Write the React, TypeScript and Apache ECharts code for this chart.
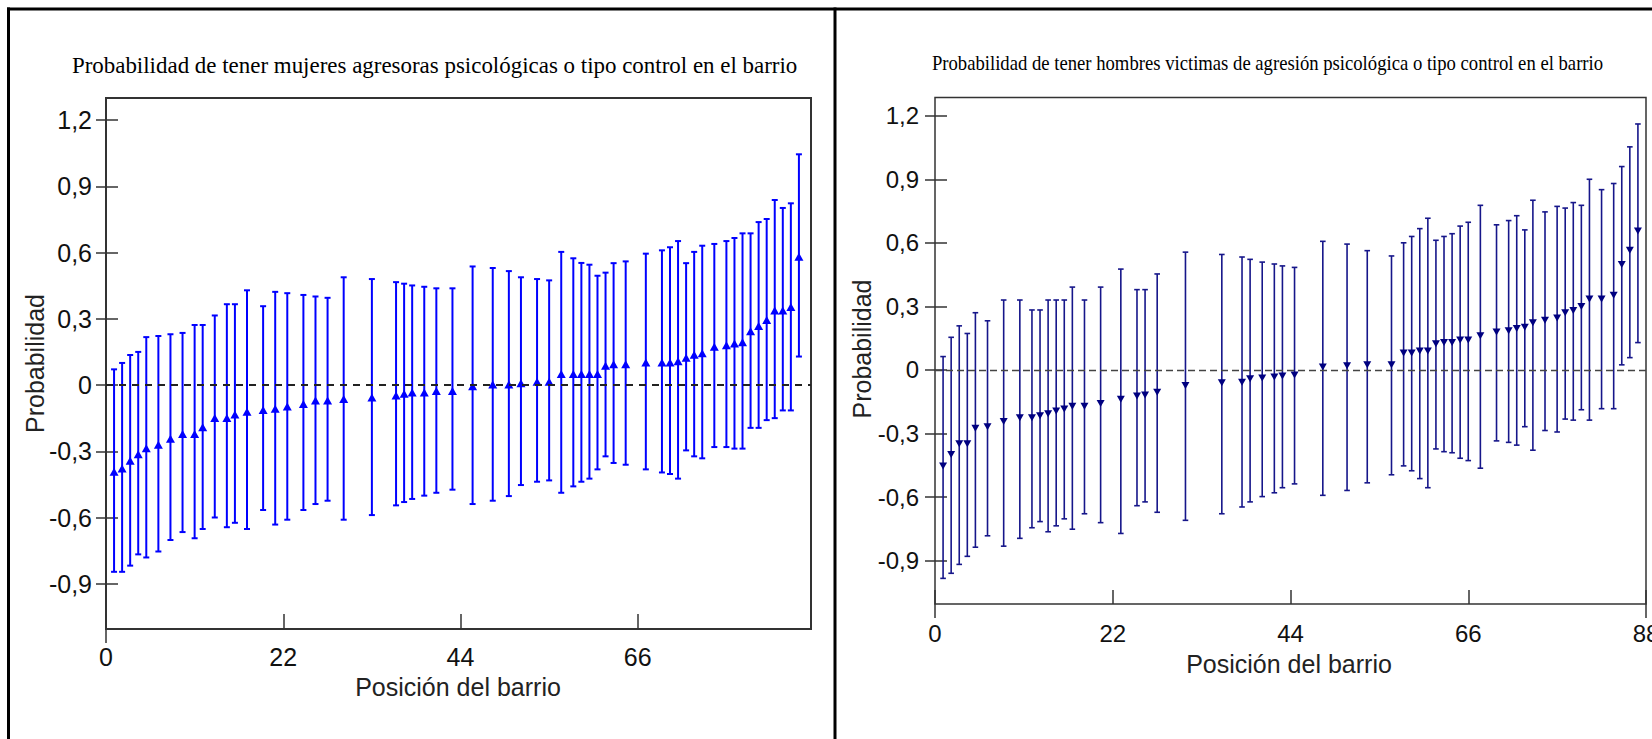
import React, { useEffect, useRef } from "react";
import * as echarts from "echarts";

// ---------- Data: left panel (mujeres agresoras) ----------
const womenPos = [1, 2, 3, 4, 5, 6.5, 8, 9.5, 11, 12, 13.5, 15, 16, 17.5, 19.5, 21, 22.5, 24.5, 26, 27.5, 29.5, 33, 36, 37, 38, 39.5, 41, 43, 45.5, 48, 50, 51.5, 53.5, 55, 56.5, 58, 59, 60, 61, 62, 63, 64.5, 67, 69, 70, 71, 72, 73, 74, 75.5, 77, 78, 79, 80, 81, 82, 83, 84, 85, 86];
const womenEst = [-0.393, -0.378, -0.343, -0.314, -0.286, -0.27, -0.243, -0.222, -0.222, -0.191, -0.149, -0.149, -0.134, -0.121, -0.113, -0.107, -0.097, -0.086, -0.07, -0.07, -0.063, -0.057, -0.047, -0.04, -0.034, -0.034, -0.027, -0.027, -0.005, 0.002, 0.002, 0.008, 0.015, 0.015, 0.05, 0.05, 0.05, 0.05, 0.05, 0.087, 0.094, 0.094, 0.102, 0.102, 0.102, 0.108, 0.123, 0.137, 0.144, 0.173, 0.18, 0.188, 0.194, 0.244, 0.267, 0.294, 0.338, 0.338, 0.353, 0.581];
const womenHigh = [0.071, 0.1, 0.136, 0.15, 0.217, 0.222, 0.23, 0.236, 0.272, 0.272, 0.315, 0.366, 0.366, 0.429, 0.357, 0.422, 0.416, 0.408, 0.401, 0.395, 0.488, 0.48, 0.466, 0.459, 0.451, 0.445, 0.438, 0.438, 0.537, 0.53, 0.516, 0.488, 0.48, 0.474, 0.603, 0.574, 0.553, 0.545, 0.495, 0.509, 0.552, 0.56, 0.595, 0.61, 0.624, 0.652, 0.552, 0.603, 0.631, 0.639, 0.652, 0.666, 0.687, 0.687, 0.738, 0.752, 0.838, 0.802, 0.823, 1.045];
const womenLow = [-0.846, -0.846, -0.818, -0.767, -0.781, -0.754, -0.702, -0.666, -0.694, -0.652, -0.6, -0.644, -0.624, -0.652, -0.566, -0.632, -0.61, -0.566, -0.539, -0.524, -0.61, -0.589, -0.545, -0.53, -0.516, -0.501, -0.488, -0.474, -0.539, -0.524, -0.503, -0.453, -0.438, -0.432, -0.488, -0.459, -0.438, -0.424, -0.382, -0.323, -0.353, -0.361, -0.382, -0.396, -0.403, -0.424, -0.296, -0.323, -0.332, -0.281, -0.281, -0.288, -0.288, -0.194, -0.194, -0.159, -0.15, -0.115, -0.115, 0.129];

// ---------- Data: right panel (hombres víctimas) ----------
const menPos = [1, 2, 3, 4, 5, 6.5, 8.5, 10.5, 12, 13, 14, 15, 16, 17, 18.5, 20.5, 23, 25, 26, 27.5, 31, 35.5, 38, 39, 40.5, 42, 43, 44.5, 48, 51, 53.5, 56.5, 58, 59, 60, 61, 62, 63, 64, 65, 66, 67.5, 69.5, 71, 72, 73, 74, 75.5, 77, 78, 79, 80, 81, 82.5, 84, 85, 86, 87];
const menEst = [-0.453, -0.399, -0.348, -0.348, -0.275, -0.268, -0.243, -0.226, -0.226, -0.216, -0.207, -0.194, -0.185, -0.172, -0.172, -0.159, -0.139, -0.123, -0.118, -0.105, -0.074, -0.06, -0.058, -0.042, -0.038, -0.033, -0.029, -0.024, 0.014, 0.02, 0.025, 0.025, 0.08, 0.08, 0.089, 0.089, 0.123, 0.13, 0.13, 0.141, 0.141, 0.161, 0.179, 0.185, 0.196, 0.201, 0.223, 0.234, 0.245, 0.27, 0.281, 0.299, 0.335, 0.335, 0.353, 0.498, 0.565, 0.656];
const menHigh = [0.063, 0.154, 0.208, 0.172, 0.27, 0.232, 0.33, 0.33, 0.283, 0.283, 0.33, 0.33, 0.33, 0.391, 0.33, 0.391, 0.476, 0.379, 0.379, 0.453, 0.556, 0.545, 0.533, 0.522, 0.509, 0.5, 0.491, 0.484, 0.607, 0.594, 0.563, 0.538, 0.6, 0.63, 0.667, 0.716, 0.612, 0.63, 0.643, 0.679, 0.697, 0.777, 0.685, 0.705, 0.728, 0.661, 0.801, 0.746, 0.772, 0.764, 0.79, 0.777, 0.9, 0.851, 0.88, 0.96, 1.053, 1.161];
const menLow = [-0.984, -0.96, -0.918, -0.88, -0.837, -0.783, -0.832, -0.795, -0.745, -0.716, -0.764, -0.736, -0.703, -0.752, -0.679, -0.721, -0.772, -0.641, -0.623, -0.672, -0.71, -0.679, -0.647, -0.623, -0.598, -0.58, -0.556, -0.538, -0.592, -0.569, -0.533, -0.495, -0.453, -0.476, -0.513, -0.556, -0.373, -0.386, -0.391, -0.417, -0.428, -0.464, -0.335, -0.342, -0.355, -0.268, -0.379, -0.286, -0.293, -0.232, -0.237, -0.188, -0.237, -0.183, -0.183, 0.024, 0.058, 0.129];

// ---------- Ticks & texts ----------
const yTicks = [-0.9, -0.6, -0.3, 0, 0.3, 0.6, 0.9, 1.2];
const xTicksLeft = [0, 22, 44, 66];
const xTicksRight = [0, 22, 44, 66, 88];
const titleLeft = "Probabilidad de tener mujeres agresoras psicológicas o tipo control en el barrio";
const titleRight = "Probabilidad de tener hombres victimas de agresión psicológica o tipo control en el barrio";
const yName = "Probabilidad";
const xName = "Posición del barrio";

const fmtY = (v: number) => (Math.abs(v) < 1e-9 ? "0" : v.toFixed(1).replace(".", ","));

function errorBar(color: string, lw: number, cap: number) {
  return (params: any, api: any) => {
    const x = api.value(0);
    const lo = api.coord([x, api.value(1)]);
    const hi = api.coord([x, api.value(2)]);
    const st = { stroke: color, lineWidth: lw };
    return {
      type: "group",
      children: [
        { type: "line", shape: { x1: lo[0], y1: lo[1], x2: hi[0], y2: hi[1] }, style: st },
        { type: "line", shape: { x1: hi[0] - cap, y1: hi[1], x2: hi[0] + cap, y2: hi[1] }, style: st },
        { type: "line", shape: { x1: lo[0] - cap, y1: lo[1], x2: lo[0] + cap, y2: lo[1] }, style: st },
      ],
    };
  };
}

function measure(text: string, font: string) {
  const c = document.createElement("canvas").getContext("2d");
  if (!c) return 1;
  c.font = font;
  return c.measureText(text).width || 1;
}

export default function App() {
  const ref = useRef<HTMLDivElement>(null);
  useEffect(() => {
    document.body.style.margin = "0";
    const chart = echarts.init(ref.current!, undefined, { renderer: "svg" });
    const sans = "Liberation Sans, Arial, sans-serif";
    const serif = '"Liberation Serif", "Times New Roman", serif';
    const tLSize = 24;
    const tRSize = 22;
    const sL = 726 / measure(titleLeft, `${tLSize}px "Liberation Serif"`);
    const sR = 672 / measure(titleRight, `${tRSize}px "Liberation Serif"`);

    const leftBlue = "#0000ff";
    const rightNavy = "#16168a";
    const axisCol = "#333";

    const mkY = (gi: number, min: number, max: number, labels: boolean, inside: boolean, len: number, fs: number, margin: number) => ({
      type: "value",
      gridIndex: gi,
      min,
      max,
      position: "left",
      axisLine: { show: false, onZero: false },
      splitLine: { show: false },
      axisTick: { show: true, inside, length: len, customValues: yTicks, lineStyle: { color: axisCol, width: 1.5 } },
      axisLabel: {
        show: labels,
        customValues: yTicks,
        formatter: fmtY,
        fontFamily: sans,
        fontSize: fs,
        color: "#111",
        margin,
      },
    });
    const mkX = (gi: number, max: number, ticks: number[], labels: boolean, inside: boolean, len: number, fs: number, margin: number) => ({
      type: "value",
      gridIndex: gi,
      min: 0,
      max,
      position: "bottom",
      axisLine: { show: false, onZero: false },
      splitLine: { show: false },
      axisTick: { show: true, inside, length: len, customValues: ticks, lineStyle: { color: axisCol, width: 1.5 } },
      axisLabel: {
        show: labels,
        customValues: ticks,
        fontFamily: sans,
        fontSize: fs,
        color: "#111",
        margin,
        hideOverlap: false,
      },
    });

    chart.setOption({
      animation: false,
      backgroundColor: "#fff",
      grid: [
        { left: 106, top: 98, width: 705, height: 531, show: true, borderColor: axisCol, borderWidth: 2, backgroundColor: "transparent", containLabel: false, outerBoundsMode: "none" },
        { left: 935, top: 97.5, width: 711, height: 506.5, show: true, borderColor: axisCol, borderWidth: 1.5, backgroundColor: "transparent", containLabel: false, outerBoundsMode: "none" },
      ],
      xAxis: [
        mkX(0, 87.5, xTicksLeft, true, true, 15, 25, 15),
        mkX(0, 87.5, [0], false, false, 14, 25, 15),
        mkX(1, 88, xTicksRight, true, true, 14, 24, 17),
        mkX(1, 88, [0, 88], false, false, 14, 24, 17),
      ],
      yAxis: [
        mkY(0, -1.105, 1.3, true, false, 10, 25, 14),
        mkY(0, -1.105, 1.3, false, true, 12, 25, 14),
        mkY(1, -1.105, 1.286, true, false, 10, 24, 16),
        mkY(1, -1.105, 1.286, false, true, 12, 24, 16),
      ],
      series: [
        {
          type: "custom",
          xAxisIndex: 0,
          yAxisIndex: 0,
          renderItem: errorBar(leftBlue, 2, 3),
          encode: { x: 0, y: [1, 2] },
          data: womenPos.map((p, i) => [p, womenLow[i], womenHigh[i]]),
          z: 3,
        },
        {
          type: "scatter",
          xAxisIndex: 0,
          yAxisIndex: 0,
          symbol: "triangle",
          symbolSize: [9, 8],
          itemStyle: { color: leftBlue, opacity: 1 },
          data: womenPos.map((p, i) => [p, womenEst[i]]),
          z: 4,
          markLine: {
            silent: true,
            symbol: "none",
            label: { show: false },
            lineStyle: { color: "#222", type: [7, 6], width: 2 },
            data: [{ yAxis: 0 }],
          },
        },
        {
          type: "custom",
          xAxisIndex: 2,
          yAxisIndex: 2,
          renderItem: errorBar(rightNavy, 1.6, 2.8),
          encode: { x: 0, y: [1, 2] },
          data: menPos.map((p, i) => [p, menLow[i], menHigh[i]]),
          z: 3,
        },
        {
          type: "scatter",
          xAxisIndex: 2,
          yAxisIndex: 2,
          symbol: "triangle",
          symbolRotate: 180,
          symbolSize: [8, 7],
          itemStyle: { color: "#000080", opacity: 1 },
          data: menPos.map((p, i) => [p, menEst[i]]),
          z: 4,
          markLine: {
            silent: true,
            symbol: "none",
            label: { show: false },
            lineStyle: { color: "#444", type: [7, 4], width: 1.3 },
            data: [{ yAxis: 0 }],
          },
        },
      ],
      graphic: [
        { type: "line", shape: { x1: 7, y1: 9, x2: 1652, y2: 9 }, style: { stroke: "#000", lineWidth: 3 } },
        { type: "line", shape: { x1: 8.5, y1: 7.5, x2: 8.5, y2: 739 }, style: { stroke: "#000", lineWidth: 3 } },
        { type: "line", shape: { x1: 835, y1: 7.5, x2: 835, y2: 739 }, style: { stroke: "#000", lineWidth: 3 } },
        {
          type: "text",
          x: 434.6,
          y: 64.5,
          scaleX: sL,
          style: { text: titleLeft, font: `${tLSize}px ${serif}`, fill: "#000", align: "center", verticalAlign: "middle" },
        },
        {
          type: "text",
          x: 1267.5,
          y: 62.5,
          scaleX: sR,
          style: { text: titleRight, font: `${tRSize}px ${serif}`, fill: "#000", align: "center", verticalAlign: "middle" },
        },
        {
          type: "text",
          x: 34.8,
          y: 363.5,
          rotation: Math.PI / 2,
          style: { text: yName, font: `25px ${sans}`, fill: "#222", align: "center", verticalAlign: "middle" },
        },
        {
          type: "text",
          x: 862,
          y: 349,
          rotation: Math.PI / 2,
          style: { text: yName, font: `25px ${sans}`, fill: "#222", align: "center", verticalAlign: "middle" },
        },
        {
          type: "text",
          x: 458,
          y: 687,
          style: { text: xName, font: `25px ${sans}`, fill: "#222", align: "center", verticalAlign: "middle" },
        },
        {
          type: "text",
          x: 1289,
          y: 664,
          style: { text: xName, font: `25px ${sans}`, fill: "#222", align: "center", verticalAlign: "middle" },
        },
      ],
    });
    return () => chart.dispose();
  }, []);
  return <div ref={ref} style={{ position: "absolute", left: 0, top: 0, width: 1652, height: 739 }} />;
}
